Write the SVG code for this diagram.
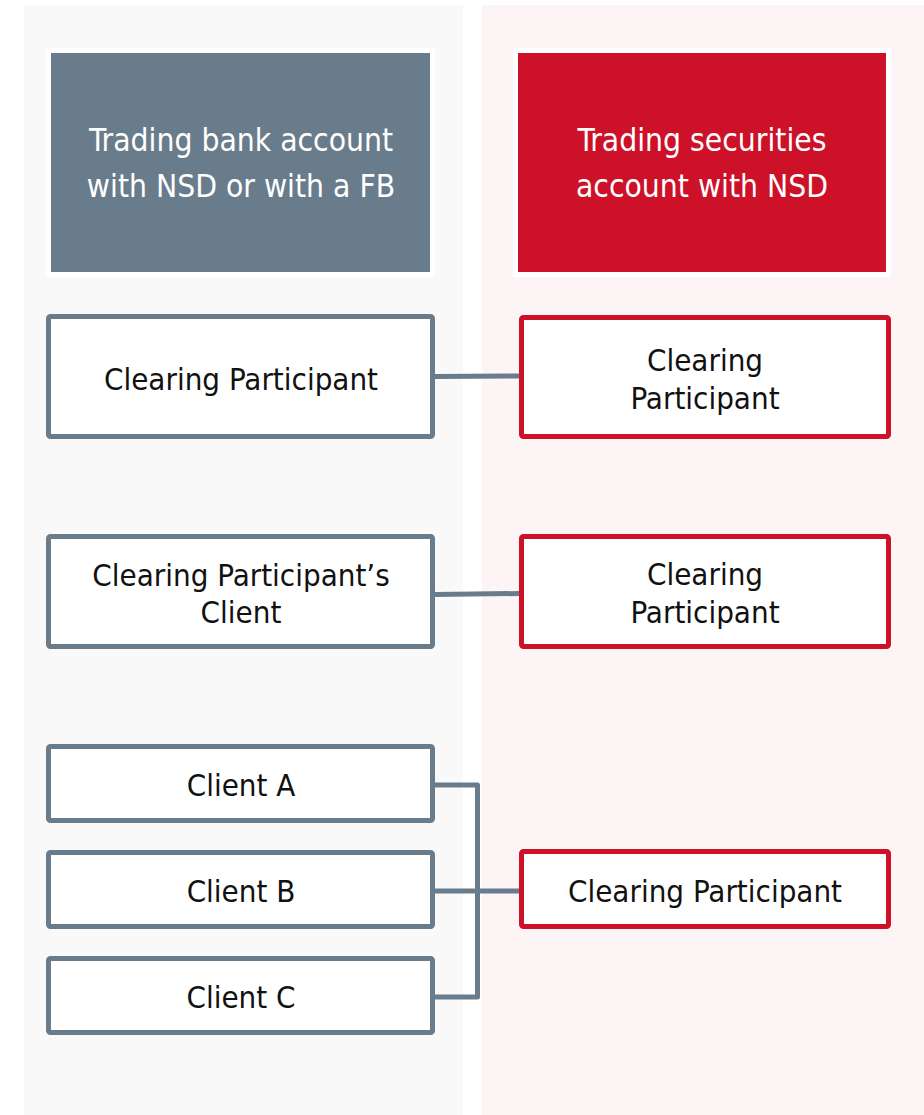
<svg xmlns="http://www.w3.org/2000/svg" width="924" height="1115" viewBox="0 0 924 1115">
<style>
text { font-family: "DejaVu Sans Condensed", "DejaVu Sans", sans-serif; font-stretch: condensed; font-size: 31px; text-anchor: middle; fill: #111; }
.hdr { fill: #fff; font-size: 31.5px; }
.gbox { fill: #fff; stroke: #687c8c; stroke-width: 5; }
.rbox { fill: #fff; stroke: #cc1128; stroke-width: 5; }
.conn { fill: none; stroke: #687c8c; stroke-width: 5; stroke-linejoin: round; }
</style>
<rect x="24" y="5" width="439" height="1110" fill="#f9f9f9"/>
<rect x="482" y="5" width="442" height="1110" fill="#fdf4f5"/>
<g id="hdr-bank">
<rect x="48.5" y="50.5" width="384" height="224" fill="#687c8c" stroke="#fff" stroke-width="5"/>
<text class="hdr" x="241" y="151">Trading bank account</text>
<text class="hdr" x="241" y="197">with NSD or with a FB</text>
</g>
<g id="hdr-sec">
<rect x="515.5" y="50.5" width="373" height="224" fill="#cc1128" stroke="#fff" stroke-width="5"/>
<text class="hdr" x="702" y="151">Trading securities</text>
<text class="hdr" x="702" y="197">account with NSD</text>
</g>
<g id="cp-left-1">
<rect class="gbox" x="48.5" y="316.5" width="384" height="120" rx="2"/>
<text x="241" y="390">Clearing Participant</text>
</g>
<g id="cp-right-1">
<rect class="rbox" x="521.5" y="317.5" width="367" height="119" rx="2"/>
<text x="705" y="371">Clearing</text>
<text x="705" y="409">Participant</text>
</g>
<g id="cpc-left">
<rect class="gbox" x="48.5" y="536.5" width="384" height="110" rx="2"/>
<text x="241" y="586">Clearing Participant’s</text>
<text x="241" y="623">Client</text>
</g>
<g id="cp-right-2">
<rect class="rbox" x="521.5" y="536.5" width="367" height="110" rx="2"/>
<text x="705" y="585">Clearing</text>
<text x="705" y="623">Participant</text>
</g>
<g id="client-a">
<rect class="gbox" x="48.5" y="746.5" width="384" height="74" rx="2"/>
<text x="241" y="796">Client A</text>
</g>
<g id="client-b">
<rect class="gbox" x="48.5" y="852.5" width="384" height="74" rx="2"/>
<text x="241" y="902">Client B</text>
</g>
<g id="client-c">
<rect class="gbox" x="48.5" y="958.5" width="384" height="74" rx="2"/>
<text x="241" y="1008">Client C</text>
</g>
<g id="cp-right-3">
<rect class="rbox" x="521.5" y="851.5" width="367" height="75" rx="2"/>
<text x="705" y="902">Clearing Participant</text>
</g>
<g id="connectors">
<path class="conn" d="M435 376.5 L519 376"/>
<path class="conn" d="M435 594.5 L519 593.5"/>
<path class="conn" d="M435 785 L477.5 785 L477.5 997 L435 997"/>
<path class="conn" d="M435 891 L519 891"/>
</g>
</svg>
